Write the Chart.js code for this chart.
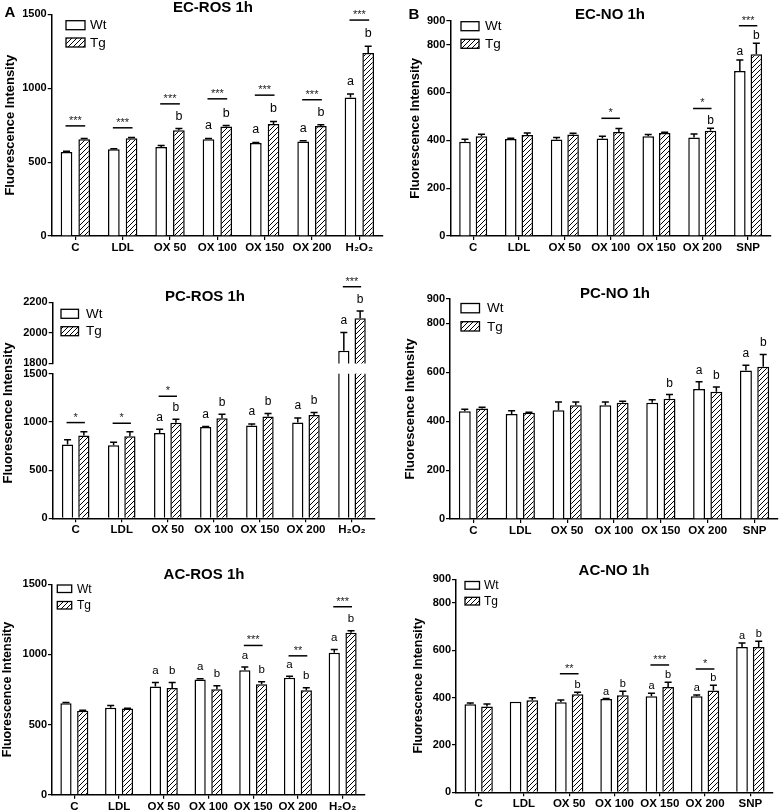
<!DOCTYPE html>
<html><head><meta charset="utf-8">
<script src="https://cdn.jsdelivr.net/npm/chart.js@4.4.1/dist/chart.umd.min.js"></script>
<style>
html,body{margin:0;padding:0;background:#fff;}
#wrap{position:relative;width:784px;height:812px;overflow:hidden;background:#fff;}
canvas{position:absolute;}
</style></head><body><div id="wrap"></div>
<script>
// ---------- categories ----------
const catsROS = ['C','LDL','OX 50','OX 100','OX 150','OX 200','H\u2082O\u2082'];
const catsNO  = ['C','LDL','OX 50','OX 100','OX 150','OX 200','SNP'];
const ticksROS = [0,500,1000,1500];
const ticksNO  = [0,200,400,600,800,900];
const ticksPcRosTop = [1800,2000,2200];

// ---------- EC-ROS 1h ----------
const ecRosWt    = [569,587,603,655,630,639,937];
const ecRosTg    = [655,662,716,741,757,745,1238];
const ecRosWtErr = [5,4,9,5,3,5,23];
const ecRosTgErr = [5,5,11,6,18,7,45];
const ecRosSig   = ['***','***','***','***','***','***','***'];
const ecRosSigY  = [745,732,894,928,953,922,1461];
const ecRosWtLet = ['','','','a','a','a','a'];
const ecRosTgLet = ['','','b','b','b','b','b'];

// ---------- EC-NO 1h ----------
const ecNoWt    = [394,406,403,408,417,412,690];
const ecNoTg    = [417,422,424,435,431,440,760];
const ecNoWtErr = [10,3,9,9,7,14,46];
const ecNoTgErr = [8,9,5,14,3,10,46];
const ecNoSig   = ['','','','*','','*','***'];
const ecNoSigY  = [0,0,0,492,0,533,879];
const ecNoWtLet = ['','','','','','','a'];
const ecNoTgLet = ['','','','','','b','b'];

// ---------- PC-ROS 1h ----------
const pcRosWt    = [766,759,886,948,962,993,1883];
const pcRosTg    = [859,852,990,1038,1055,1072,2096];
const pcRosWtErr = [48,31,38,4,17,48,119];
const pcRosTgErr = [38,45,38,41,31,25,47];
const pcRosSig   = ['*','*','*','','','','***'];
const pcRosSigY  = [993,986,1266,0,0,0,2302];
const pcRosWtLet = ['','','a','a','a','a','a'];
const pcRosTgLet = ['','','b','b','b','b','b'];

// ---------- PC-NO 1h ----------
const pcNoWt    = [441,430,445,465,476,532,607];
const pcNoTg    = [452,435,465,476,492,521,623];
const pcNoWtErr = [8,13,34,14,12,29,22];
const pcNoTgErr = [5,2,14,6,17,19,50];
const pcNoSig   = ['','','','','','',''];
const pcNoSigY  = [0,0,0,0,0,0,0];
const pcNoWtLet = ['','','','','','a','a'];
const pcNoTgLet = ['','','','','b','b','b'];

// ---------- AC-ROS 1h ----------
const acRosWt    = [652,619,771,821,888,833,1012];
const acRosTg    = [598,614,760,752,788,745,1155];
const acRosWtErr = [5,17,29,5,22,12,24];
const acRosTgErr = [4,3,40,24,17,17,14];
const acRosSig   = ['','','','','***','**','***'];
const acRosSigY  = [0,0,0,0,1064,990,1340];
const acRosWtLet = ['','','a','a','a','a','a'];
const acRosTgLet = ['','','b','b','b','b','b'];

// ---------- AC-NO 1h ----------
const acNoWt    = [372,383,380,394,406,406,614];
const acNoTg    = [363,389,414,410,445,430,614];
const acNoWtErr = [5,0,10,2,12,5,17];
const acNoTgErr = [10,10,9,17,20,22,24];
const acNoSig   = ['','','**','','***','*',''];
const acNoSigY  = [0,0,501,0,538,521,0];
const acNoWtLet = ['','','','a','a','a','a'];
const acNoTgLet = ['','','b','b','b','b','b'];

const F = "'Liberation Sans', Arial, sans-serif";
Chart.defaults.font.family = F;
Chart.defaults.color = '#000';
const wrap = document.getElementById('wrap');

function makeHatch(ctx) {
  const t = document.createElement('canvas'); t.width = 5; t.height = 5;
  const g = t.getContext('2d');
  g.fillStyle = '#fff'; g.fillRect(0,0,5,5);
  g.strokeStyle = '#000'; g.lineWidth = 1;
  g.beginPath();
  g.moveTo(-1,6); g.lineTo(6,-1);
  g.moveTo(-1,1); g.lineTo(1,-1);
  g.moveTo(4,6); g.lineTo(6,4);
  g.stroke();
  return ctx.createPattern(t, 'repeat');
}

function makeDecor(p, pat) {
  return {
    id: 'decor',
    afterDatasetsDraw(chart) {
      const ctx = chart.ctx, y = chart.scales.y;
      const m0 = chart.getDatasetMeta(0), m1 = chart.getDatasetMeta(1);
      const inR = v => v >= y.min && v <= y.max;
      ctx.save();
      ctx.strokeStyle = '#000'; ctx.fillStyle = '#000'; ctx.lineWidth = 1.5;
      ctx.textAlign = 'center'; ctx.textBaseline = 'alphabetic';
      const sets = [[p.wt, p.wtErr, p.wtLet, m0], [p.tg, p.tgErr, p.tgLet, m1]];
      for (let i = 0; i < p.wt.length; i++) {
        sets.forEach(([vals, errs, lets, meta]) => {
          const v = vals[i]; if (!inR(v)) return;
          const bx = meta.data[i].x;
          const y0 = y.getPixelForValue(v), y1 = y.getPixelForValue(v + errs[i]);
          if (errs[i] > 0) {
            ctx.beginPath(); ctx.moveTo(bx, y0); ctx.lineTo(bx, y1);
            ctx.moveTo(bx - 3.5, y1); ctx.lineTo(bx + 3.5, y1); ctx.stroke();
          }
          if (lets[i]) { ctx.font = p.letSize + 'px ' + F; ctx.fillText(lets[i], bx, y1 - p.letOff); }
        });
        if (p.sig[i] && inR(p.wt[i]) && inR(p.tg[i])) {
          const xw = m0.data[i].x, xt = m1.data[i].x, ly = y.getPixelForValue(p.sigY[i]);
          ctx.beginPath(); ctx.moveTo(xw - 1, ly); ctx.lineTo(xt + 1, ly); ctx.stroke();
          ctx.font = '11px ' + F; ctx.fillStyle = '#222';
          ctx.fillText(p.sig[i], (xw + xt) / 2, ly - 2); ctx.fillStyle = '#000';
        }
      }
      ctx.restore();
    },
    afterDraw(chart) {
      const ctx = chart.ctx;
      ctx.save(); ctx.translate(-p.cl, -p.ct); ctx.fillStyle = '#000'; ctx.strokeStyle = '#000';
      if (p.title) {
        ctx.font = 'bold 15px ' + F; ctx.textAlign = 'center'; ctx.textBaseline = 'middle';
        ctx.fillText(p.title, p.tx, p.ty);
      }
      if (p.letter) {
        ctx.font = 'bold 15px ' + F; ctx.textAlign = 'center'; ctx.textBaseline = 'middle';
        ctx.fillText(p.letter[0], p.letter[1], p.letter[2]);
      }
      if (p.legend) {
        const L = p.legend;
        ctx.lineWidth = 1.3;
        ctx.fillStyle = '#fff'; ctx.fillRect(L.x, L.y1, L.w, L.h); ctx.strokeRect(L.x, L.y1, L.w, L.h);
        ctx.fillStyle = pat; ctx.fillRect(L.x, L.y2, L.w, L.h); ctx.strokeRect(L.x, L.y2, L.w, L.h);
        ctx.fillStyle = '#000'; ctx.font = L.size + 'px ' + F; ctx.textAlign = 'left'; ctx.textBaseline = 'middle';
        ctx.fillText('Wt', L.tx, L.y1 + L.h / 2 + 0.5);
        ctx.fillText('Tg', L.tx, L.y2 + L.h / 2 + 0.5);
      }
      if (p.yTitleCustom) {
        ctx.translate(p.yTitleCustom[0], p.yTitleCustom[1]); ctx.rotate(-Math.PI / 2);
        ctx.font = 'bold 13px ' + F; ctx.textAlign = 'center'; ctx.textBaseline = 'middle';
        ctx.fillText('Fluorescence Intensity', 0, 0);
      }
      ctx.restore();
    }
  };
}

function makePanel(p) {
  const cv = document.createElement('canvas');
  cv.width = p.cw; cv.height = p.ch;
  cv.style.left = p.cl + 'px'; cv.style.top = p.ct + 'px';
  wrap.appendChild(cv);
  const pat = makeHatch(cv.getContext('2d'));
  const ds = {borderColor:'#000', borderWidth:1.5, borderSkipped:'start', clip:0};
  new Chart(cv, {
    type: 'bar',
    data: { labels: p.labels, datasets: [
      Object.assign({label:'Wt', data:p.wt, backgroundColor:'#fff'}, ds),
      Object.assign({label:'Tg', data:p.tg, backgroundColor:pat}, ds)
    ]},
    options: {
      responsive:false, animation:false, events:[], devicePixelRatio:1,
      layout: { padding: {left:0, top:p.pt, right:p.pr, bottom:p.pb || 0} },
      datasets: { bar: { categoryPercentage:p.cat, barPercentage:p.bar } },
      plugins: { legend:{display:false}, tooltip:{enabled:false}, title:{display:false} },
      scales: {
        x: {
          display: !p.xHidden, offset:true,
          grid: {display:true, offset:false, drawOnChartArea:false, drawTicks:true, tickLength:4, color:'#000', lineWidth:1.2},
          border: {display:true, color:'#000', width:1.5},
          ticks: {color:'#000', font:{family:F, size:11.5, weight:'bold'}, padding:1, maxRotation:0, autoSkip:false},
          afterFit: s => { s.height = p.xh || 0; }
        },
        y: {
          min:p.min, max:p.max,
          afterBuildTicks: s => { s.ticks = p.yticks.map(v => ({value:v})); },
          grid: {drawOnChartArea:false, drawTicks:true, tickLength:4, color:'#000', lineWidth:1.2},
          border: {display:true, color:'#000', width:1.5},
          ticks: {color:'#000', font:{family:F, size:11, weight:'bold'}, padding:1, callback: v => String(v)},
          title: p.ytp !== undefined ? {display:true, text:'Fluorescence Intensity', color:'#000',
                   font:{family:F, size:p.ytSize || 13, weight:'bold'}, padding:{top:p.ytp, bottom:0}} : {display:false},
          afterFit: s => { s.width = p.yw; }
        }
      }
    },
    plugins: [makeDecor(p, pat)]
  });
}

// EC-ROS
makePanel({cl:0, ct:0, cw:392, ch:261, yw:51.7, pt:14.3, pr:9, xh:25, ytp:2.2,
  cat:0.748, bar:0.66, labels:catsROS, min:0, max:1500, yticks:ticksROS,
  wt:ecRosWt, tg:ecRosTg, wtErr:ecRosWtErr, tgErr:ecRosTgErr, sig:ecRosSig, sigY:ecRosSigY,
  wtLet:ecRosWtLet, tgLet:ecRosTgLet, letOff:9, letSize:12.5,
  title:'EC-ROS 1h', tx:213, ty:8, letter:['A',10,13],
  legend:{x:66, y1:20.7, y2:38, w:19, h:9, tx:90, size:13.5}});

// EC-NO
makePanel({cl:405, ct:0, cw:379, ch:261, yw:45.3, pt:20.7, pr:13, xh:25, ytp:2.2,
  cat:0.72, bar:0.70, labels:catsNO, min:0, max:900, yticks:ticksNO,
  wt:ecNoWt, tg:ecNoTg, wtErr:ecNoWtErr, tgErr:ecNoTgErr, sig:ecNoSig, sigY:ecNoSigY,
  wtLet:ecNoWtLet, tgLet:ecNoTgLet, letOff:4.5, letSize:12,
  title:'EC-NO 1h', tx:610, ty:15, letter:['B',414,15],
  legend:{x:461, y1:21.7, y2:39.3, w:18, h:9, tx:485, size:13.5}});

// PC-ROS top segment (broken axis)
makePanel({cl:0, ct:265, cw:392, ch:106, yw:52.7, pt:37.3, pr:17, pb:7.3, xHidden:true,
  cat:0.708, bar:0.69, labels:catsROS, min:1800, max:2200, yticks:ticksPcRosTop,
  wt:pcRosWt, tg:pcRosTg, wtErr:pcRosWtErr, tgErr:pcRosTgErr, sig:pcRosSig, sigY:pcRosSigY,
  wtLet:pcRosWtLet, tgLet:pcRosTgLet, letOff:8.5, letSize:12,
  title:'PC-ROS 1h', tx:205, ty:297,
  legend:{x:61, y1:309.3, y2:326.7, w:17.5, h:9, tx:86, size:13.5}});

// PC-ROS bottom segment
makePanel({cl:0, ct:265, cw:392, ch:278, yw:52.7, pt:108.7, pr:17, xh:24.7,
  cat:0.708, bar:0.69, labels:catsROS, min:0, max:1500, yticks:ticksROS,
  wt:pcRosWt, tg:pcRosTg, wtErr:pcRosWtErr, tgErr:pcRosTgErr, sig:pcRosSig, sigY:pcRosSigY,
  wtLet:pcRosWtLet, tgLet:pcRosTgLet, letOff:8.5, letSize:12,
  yTitleCustom:[8, 413]});

// PC-NO
makePanel({cl:400, ct:265, cw:384, ch:279, yw:50, pt:34, pr:6, xh:25, ytp:2.2,
  cat:0.738, bar:0.69, labels:catsNO, min:0, max:900, yticks:ticksNO,
  wt:pcNoWt, tg:pcNoTg, wtErr:pcNoWtErr, tgErr:pcNoTgErr, sig:pcNoSig, sigY:pcNoSigY,
  wtLet:pcNoWtLet, tgLet:pcNoTgLet, letOff:8, letSize:12,
  title:'PC-NO 1h', tx:615, ty:294,
  legend:{x:461, y1:303.5, y2:321.7, w:18.5, h:9.3, tx:487, size:13.5}});

// AC-ROS
makePanel({cl:0, ct:545, cw:392, ch:267, yw:52, pt:39.3, pr:27, xh:17.3, ytp:0.5, ytSize:12.5,
  cat:0.75, bar:0.67, labels:catsROS, min:0, max:1500, yticks:ticksROS,
  wt:acRosWt, tg:acRosTg, wtErr:acRosWtErr, tgErr:acRosTgErr, sig:acRosSig, sigY:acRosSigY,
  wtLet:acRosWtLet, tgLet:acRosTgLet, letOff:8.5, letSize:11.5,
  title:'AC-ROS 1h', tx:204, ty:575,
  legend:{x:57.3, y1:585, y2:601.5, w:14.4, h:7.5, tx:77, size:12}});

// AC-NO
makePanel({cl:405, ct:545, cw:379, ch:267, yw:51, pt:34.3, pr:11, xh:19.7, ytp:6.5, ytSize:12.5,
  cat:0.737, bar:0.70, labels:catsNO, min:0, max:900, yticks:ticksNO,
  wt:acNoWt, tg:acNoTg, wtErr:acNoWtErr, tgErr:acNoTgErr, sig:acNoSig, sigY:acNoSigY,
  wtLet:acNoWtLet, tgLet:acNoTgLet, letOff:4, letSize:11,
  title:'AC-NO 1h', tx:614, ty:571,
  legend:{x:465, y1:581.5, y2:597.3, w:14.5, h:7.7, tx:484, size:12}});
</script>
</body></html>
